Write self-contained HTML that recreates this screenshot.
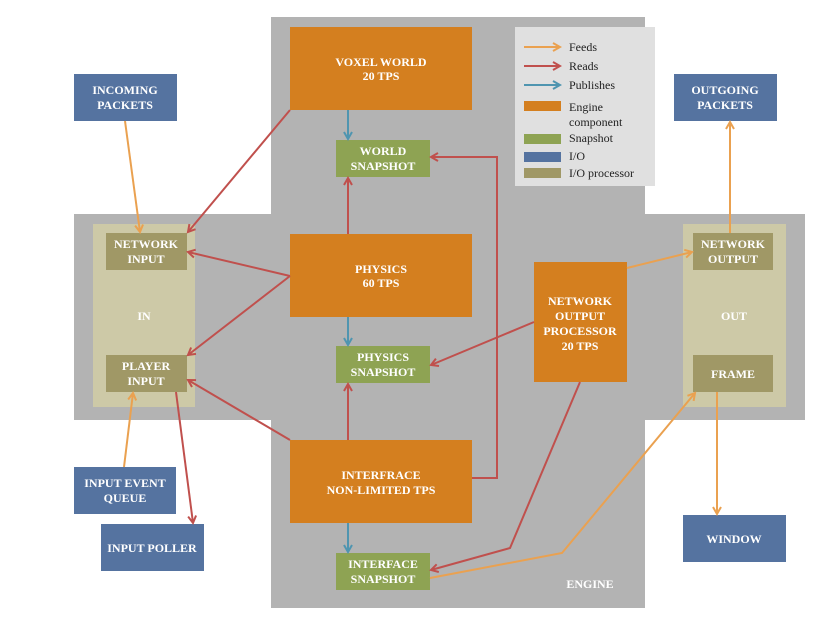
<!DOCTYPE html>
<html><head><style>
body{margin:0;background:#fff;}
svg text{font-family:"Liberation Serif",serif;font-weight:bold;fill:#fff;font-size:12px;text-anchor:middle;}
</style></head><body>
<svg width="825" height="638" viewBox="0 0 825 638" xmlns="http://www.w3.org/2000/svg">
<defs>
<marker id="mo" markerWidth="10" markerHeight="10" refX="8" refY="5" orient="auto" markerUnits="userSpaceOnUse"><polyline points="1,1 8,5 1,9" fill="none" stroke="#eaa150" stroke-width="2"/></marker>
<marker id="mr" markerWidth="10" markerHeight="10" refX="8" refY="5" orient="auto" markerUnits="userSpaceOnUse"><polyline points="1,1 8,5 1,9" fill="none" stroke="#c0504d" stroke-width="2"/></marker>
<marker id="mt" markerWidth="10" markerHeight="10" refX="8" refY="5" orient="auto" markerUnits="userSpaceOnUse"><polyline points="1,1 8,5 1,9" fill="none" stroke="#4f95b0" stroke-width="2"/></marker>
</defs>
<rect x="271" y="17" width="374" height="591" fill="#b3b3b3"/>
<rect x="74" y="214" width="731" height="206" fill="#b3b3b3"/>
<rect x="93" y="224" width="102" height="183" fill="#cdc9a7"/>
<rect x="683" y="224" width="103" height="183" fill="#cdc9a7"/>
<text x="144" y="320">IN</text>
<text x="734" y="320">OUT</text>
<text x="590" y="588" font-size="13">ENGINE</text>
<!-- legend -->
<rect x="515" y="27" width="140" height="159" fill="#e0e0e0"/>
<line x1="524" y1="47" x2="560" y2="47" stroke="#eaa150" stroke-width="2" marker-end="url(#mo)"/>
<line x1="524" y1="66" x2="560" y2="66" stroke="#c0504d" stroke-width="2" marker-end="url(#mr)"/>
<line x1="524" y1="85" x2="560" y2="85" stroke="#4f95b0" stroke-width="2" marker-end="url(#mt)"/>
<rect x="524" y="101" width="37" height="10" fill="#d47f1f"/>
<rect x="524" y="134" width="37" height="10" fill="#8ea353"/>
<rect x="524" y="152" width="37" height="10" fill="#5573a0"/>
<rect x="524" y="168" width="37" height="10" fill="#a09866"/>
<g style="font-weight:normal" font-size="12">
<text x="569" y="51" style="fill:#222;text-anchor:start;font-weight:normal">Feeds</text>
<text x="569" y="70" style="fill:#222;text-anchor:start;font-weight:normal">Reads</text>
<text x="569" y="89" style="fill:#222;text-anchor:start;font-weight:normal">Publishes</text>
<text x="569" y="111" style="fill:#222;text-anchor:start;font-weight:normal">Engine</text>
<text x="569" y="126" style="fill:#222;text-anchor:start;font-weight:normal">component</text>
<text x="569" y="142" style="fill:#222;text-anchor:start;font-weight:normal">Snapshot</text>
<text x="569" y="160" style="fill:#222;text-anchor:start;font-weight:normal">I/O</text>
<text x="569" y="177" style="fill:#222;text-anchor:start;font-weight:normal">I/O processor</text>
</g>
<!-- engine components -->
<rect x="290" y="27" width="182" height="83" fill="#d47f1f"/>
<text x="381" y="66">VOXEL WORLD</text><text x="381" y="80">20 TPS</text>
<rect x="290" y="234" width="182" height="83" fill="#d47f1f"/>
<text x="381" y="273">PHYSICS</text><text x="381" y="287">60 TPS</text>
<rect x="290" y="440" width="182" height="83" fill="#d47f1f"/>
<text x="381" y="479">INTERFRACE</text><text x="381" y="494">NON-LIMITED TPS</text>
<rect x="534" y="262" width="93" height="120" fill="#d47f1f"/>
<text x="580" y="305">NETWORK</text><text x="580" y="320">OUTPUT</text><text x="580" y="335">PROCESSOR</text><text x="580" y="350">20 TPS</text>
<!-- snapshots -->
<rect x="336" y="140" width="94" height="37" fill="#8ea353"/>
<text x="383" y="155">WORLD</text><text x="383" y="170">SNAPSHOT</text>
<rect x="336" y="346" width="94" height="37" fill="#8ea353"/>
<text x="383" y="361">PHYSICS</text><text x="383" y="376">SNAPSHOT</text>
<rect x="336" y="553" width="94" height="37" fill="#8ea353"/>
<text x="383" y="568">INTERFACE</text><text x="383" y="583">SNAPSHOT</text>
<!-- io processors -->
<rect x="106" y="233" width="81" height="37" fill="#a09866"/>
<text x="146" y="248">NETWORK</text><text x="146" y="263">INPUT</text>
<rect x="106" y="355" width="81" height="37" fill="#a09866"/>
<text x="146" y="370">PLAYER</text><text x="146" y="385">INPUT</text>
<rect x="693" y="233" width="80" height="37" fill="#a09866"/>
<text x="733" y="248">NETWORK</text><text x="733" y="263">OUTPUT</text>
<rect x="693" y="355" width="80" height="37" fill="#a09866"/>
<text x="733" y="378">FRAME</text>
<!-- io -->
<rect x="74" y="74" width="103" height="47" fill="#5573a0"/>
<text x="125" y="94">INCOMING</text><text x="125" y="109">PACKETS</text>
<rect x="674" y="74" width="103" height="47" fill="#5573a0"/>
<text x="725" y="94">OUTGOING</text><text x="725" y="109">PACKETS</text>
<rect x="74" y="467" width="102" height="47" fill="#5573a0"/>
<text x="125" y="487">INPUT EVENT</text><text x="125" y="502">QUEUE</text>
<rect x="101" y="524" width="103" height="47" fill="#5573a0"/>
<text x="152" y="552">INPUT POLLER</text>
<rect x="683" y="515" width="103" height="47" fill="#5573a0"/>
<text x="734" y="543">WINDOW</text>
<!-- feeds -->
<g stroke="#eaa150" stroke-width="2" fill="none" marker-end="url(#mo)">
<line x1="125" y1="121" x2="140" y2="232"/>
<line x1="124" y1="467" x2="133" y2="393"/>
<line x1="627" y1="268" x2="692" y2="252"/>
<line x1="730" y1="233" x2="730" y2="122"/>
<polyline points="430,578 562,553 695,393"/>
<line x1="717" y1="392" x2="717" y2="514"/>
</g>
<!-- reads -->
<g stroke="#c0504d" stroke-width="2" fill="none" marker-end="url(#mr)">
<line x1="290" y1="110" x2="188" y2="232"/>
<line x1="290" y1="276" x2="188" y2="252"/>
<line x1="290" y1="276" x2="188" y2="355"/>
<line x1="290" y1="440" x2="188" y2="380"/>
<line x1="348" y1="234" x2="348" y2="178"/>
<line x1="348" y1="440" x2="348" y2="384"/>
<polyline points="472,478 497,478 497,157 431,157"/>
<line x1="534" y1="322" x2="431" y2="365"/>
<polyline points="580,382 510,548 431,570"/>
<line x1="176" y1="392" x2="193" y2="523"/>
</g>
<!-- publishes -->
<g stroke="#4f95b0" stroke-width="2" fill="none" marker-end="url(#mt)">
<line x1="348" y1="110" x2="348" y2="139"/>
<line x1="348" y1="317" x2="348" y2="345"/>
<line x1="348" y1="523" x2="348" y2="552"/>
</g>
</svg>
</body></html>
